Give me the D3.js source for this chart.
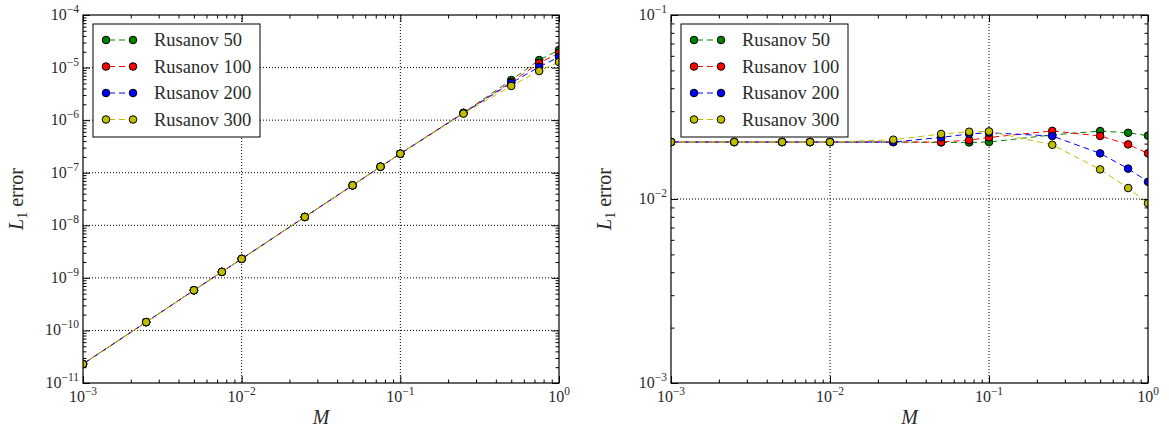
<!DOCTYPE html>
<html><head><meta charset="utf-8">
<script src="https://cdn.jsdelivr.net/npm/d3@7"></script>
<style>body{margin:0;background:#fff}</style></head>
<body>
<svg id="c" width="1169" height="436"></svg>
<script>
// ---- data ----
const machNumbers = [0.001, 0.0025, 0.005, 0.0075, 0.01, 0.025, 0.05, 0.075, 0.1, 0.25, 0.5, 0.75, 1.0];
const seriesNames = ["Rusanov 50", "Rusanov 100", "Rusanov 200", "Rusanov 300"];
const seriesColors = ["#008000", "#ff0000", "#0000ff", "#bfbf00"];

// left panel: L1 error (absolute)
const leftR50  = [2.3e-11, 1.44e-10, 5.8e-10, 1.3e-9, 2.3e-9, 1.44e-8, 5.75e-8, 1.3e-7, 2.3e-7, 1.38e-6, 5.8e-6, 1.39e-5, 2.16e-5];
const leftR100 = [2.3e-11, 1.44e-10, 5.8e-10, 1.3e-9, 2.3e-9, 1.44e-8, 5.75e-8, 1.3e-7, 2.3e-7, 1.37e-6, 5.3e-6, 1.22e-5, 1.89e-5];
const leftR200 = [2.3e-11, 1.44e-10, 5.8e-10, 1.3e-9, 2.3e-9, 1.44e-8, 5.75e-8, 1.3e-7, 2.3e-7, 1.36e-6, 5.1e-6, 1.03e-5, 1.59e-5];
const leftR300 = [2.3e-11, 1.44e-10, 5.8e-10, 1.3e-9, 2.3e-9, 1.44e-8, 5.75e-8, 1.3e-7, 2.3e-7, 1.33e-6, 4.47e-6, 8.6e-6, 1.28e-5];

// right panel: L1 error (relative)
const rightR50  = [0.0204, 0.0204, 0.0204, 0.0204, 0.0204, 0.0204, 0.0203, 0.0203, 0.0204, 0.0223, 0.0234, 0.0229, 0.0221];
const rightR100 = [0.0204, 0.0204, 0.0204, 0.0204, 0.0204, 0.0204, 0.0204, 0.0209, 0.0216, 0.02345, 0.0220, 0.0198, 0.0177];
const rightR200 = [0.0204, 0.0204, 0.0204, 0.0204, 0.0204, 0.0204, 0.0216, 0.0226, 0.0229, 0.0220, 0.0177, 0.01462, 0.0124];
const rightR300 = [0.0204, 0.0204, 0.0204, 0.0204, 0.0204, 0.0210, 0.02255, 0.0232, 0.0233, 0.0197, 0.01448, 0.01147, 0.00948];

const xDomain = [1e-3, 1];
const leftYDomain = [1e-11, 1e-4];
const rightYDomain = [1e-3, 1e-1];

// ---- drawing ----
const FONT = "'Liberation Serif', 'DejaVu Serif', serif";
const TXT = "#2a2a2a";
const svg = d3.select("#c");

function isMajor(v) {
  const l = Math.log10(v);
  return Math.abs(l - Math.round(l)) < 1e-9;
}

function powLabel(sel, v) {
  const e = Math.round(Math.log10(v));
  sel.append("tspan").text("10");
  sel.append("tspan").attr("dy", -7).attr("font-size", 11.5).text(e < 0 ? "\u2212" + (-e) : String(e));
}

function panel(id, box, yDomain, series) {
  const g = svg.append("g");
  const x = d3.scaleLog().domain(xDomain).range([box.x0, box.x1]);
  const y = d3.scaleLog().domain(yDomain).range([box.y1, box.y0]);

  const xAll = x.ticks();
  const yAll = y.ticks();
  const xMaj = xAll.filter(isMajor), xMin = xAll.filter(v => !isMajor(v));
  const yMaj = yAll.filter(isMajor), yMin = yAll.filter(v => !isMajor(v));

  // grid (dotted, majors only, interior)
  const gx = xMaj.filter(v => v > xDomain[0] && v < xDomain[1]);
  const gy = yMaj.filter(v => v > yDomain[0] && v < yDomain[1]);
  g.selectAll(".gx").data(gx).join("line")
    .attr("x1", d => x(d)).attr("x2", d => x(d)).attr("y1", box.y0).attr("y2", box.y1)
    .attr("stroke", "#000").attr("stroke-width", 1).attr("stroke-dasharray", "1,2");
  g.selectAll(".gy").data(gy).join("line")
    .attr("x1", box.x0).attr("x2", box.x1).attr("y1", d => y(d)).attr("y2", d => y(d))
    .attr("stroke", "#000").attr("stroke-width", 1).attr("stroke-dasharray", "1,2");

  // ticks inward on all sides
  const addAxis = (gen, tr) => {
    const a = g.append("g").attr("transform", tr).call(gen);
    a.select(".domain").remove();
    a.selectAll("line").attr("stroke", "#000");
  };
  const H = box.y1 - box.y0, W = box.x1 - box.x0;
  addAxis(d3.axisBottom(x).tickValues(xMaj).tickSizeInner(-7).tickSizeOuter(0).tickFormat(""), `translate(0,${box.y1})`);
  addAxis(d3.axisBottom(x).tickValues(xMin).tickSizeInner(-3.5).tickSizeOuter(0).tickFormat(""), `translate(0,${box.y1})`);
  addAxis(d3.axisTop(x).tickValues(xMaj).tickSizeInner(-7).tickSizeOuter(0).tickFormat(""), `translate(0,${box.y0})`);
  addAxis(d3.axisTop(x).tickValues(xMin).tickSizeInner(-3.5).tickSizeOuter(0).tickFormat(""), `translate(0,${box.y0})`);
  addAxis(d3.axisLeft(y).tickValues(yMaj).tickSizeInner(-7).tickSizeOuter(0).tickFormat(""), `translate(${box.x0},0)`);
  addAxis(d3.axisLeft(y).tickValues(yMin).tickSizeInner(-3.5).tickSizeOuter(0).tickFormat(""), `translate(${box.x0},0)`);
  addAxis(d3.axisRight(y).tickValues(yMaj).tickSizeInner(-7).tickSizeOuter(0).tickFormat(""), `translate(${box.x1},0)`);
  addAxis(d3.axisRight(y).tickValues(yMin).tickSizeInner(-3.5).tickSizeOuter(0).tickFormat(""), `translate(${box.x1},0)`);

  // tick labels
  xMaj.forEach(v => {
    const t = g.append("text").attr("x", x(v)).attr("y", box.y1 + 19)
      .attr("text-anchor", "middle").attr("font-family", FONT).attr("font-size", 16).attr("fill", TXT);
    powLabel(t, v);
  });
  yMaj.forEach(v => {
    const t = g.append("text").attr("x", box.x0 - 4).attr("y", y(v) + 5)
      .attr("text-anchor", "end").attr("font-family", FONT).attr("font-size", 16).attr("fill", TXT);
    powLabel(t, v);
  });

  // axis labels
  g.append("text").attr("x", (box.x0 + box.x1) / 2).attr("y", box.y1 + 41)
    .attr("text-anchor", "middle").attr("font-family", FONT).attr("font-size", 20)
    .attr("font-style", "italic").attr("fill", TXT).text("M");
  const yl = g.append("text").attr("transform", `translate(${box.x0 - 60},${(box.y0 + box.y1) / 2}) rotate(-90)`)
    .attr("text-anchor", "middle").attr("font-family", FONT).attr("font-size", 20).attr("fill", TXT);
  yl.append("tspan").attr("font-style", "italic").text("L");
  yl.append("tspan").attr("font-size", 14).attr("dy", 4).text("1");
  yl.append("tspan").attr("dy", -4).text(" error");

  // clip
  svg.append("clipPath").attr("id", "clip" + id).append("rect")
    .attr("x", box.x0).attr("y", box.y0).attr("width", W).attr("height", H);
  const plot = g.append("g").attr("clip-path", `url(#clip${id})`);
  const line = d3.line().x(d => x(d[0])).y(d => y(d[1]));
  series.forEach((vals, i) => {
    const pts = machNumbers.map((m, j) => [m, vals[j]]);
    plot.append("path").datum(pts).attr("d", line).attr("fill", "none")
      .attr("stroke", seriesColors[i]).attr("stroke-width", 1).attr("stroke-dasharray", "6,4")
      .attr("stroke-dashoffset", -2.5 * i);
    plot.selectAll(null).data(pts).join("circle")
      .attr("cx", d => x(d[0])).attr("cy", d => y(d[1])).attr("r", 3.8)
      .attr("fill", seriesColors[i]).attr("stroke", "#000").attr("stroke-width", 1);
  });

  // frame
  g.append("rect").attr("x", box.x0).attr("y", box.y0).attr("width", W).attr("height", H)
    .attr("fill", "none").attr("stroke", "#000").attr("stroke-width", 1.2);

  // legend
  const lg = g.append("g");
  lg.append("rect").attr("x", box.x0 + 10).attr("y", box.y0 + 9).attr("width", 167).attr("height", 113)
    .attr("fill", "#fff").attr("stroke", "#000").attr("stroke-width", 1);
  seriesNames.forEach((nm, i) => {
    const cy = box.y0 + 25 + i * 26.5;
    const mx0 = box.x0 + 23, mx1 = box.x0 + 50;
    lg.append("line").attr("x1", mx0).attr("x2", mx1).attr("y1", cy).attr("y2", cy)
      .attr("stroke", seriesColors[i]).attr("stroke-width", 1).attr("stroke-dasharray", "6,4")
      .attr("stroke-dashoffset", -3);
    [mx0, mx1].forEach(mx => lg.append("circle").attr("cx", mx).attr("cy", cy).attr("r", 3.8)
      .attr("fill", seriesColors[i]).attr("stroke", "#000").attr("stroke-width", 1));
    lg.append("text").attr("x", box.x0 + 71).attr("y", cy + 6).attr("font-family", FONT)
      .attr("font-size", 18.5).attr("fill", TXT).text(nm);
  });
}

panel("L", {x0: 83, x1: 559, y0: 15, y1: 383}, leftYDomain, [leftR50, leftR100, leftR200, leftR300]);
panel("R", {x0: 671, x1: 1148, y0: 15, y1: 383}, rightYDomain, [rightR50, rightR100, rightR200, rightR300]);
</script>
</body></html>
